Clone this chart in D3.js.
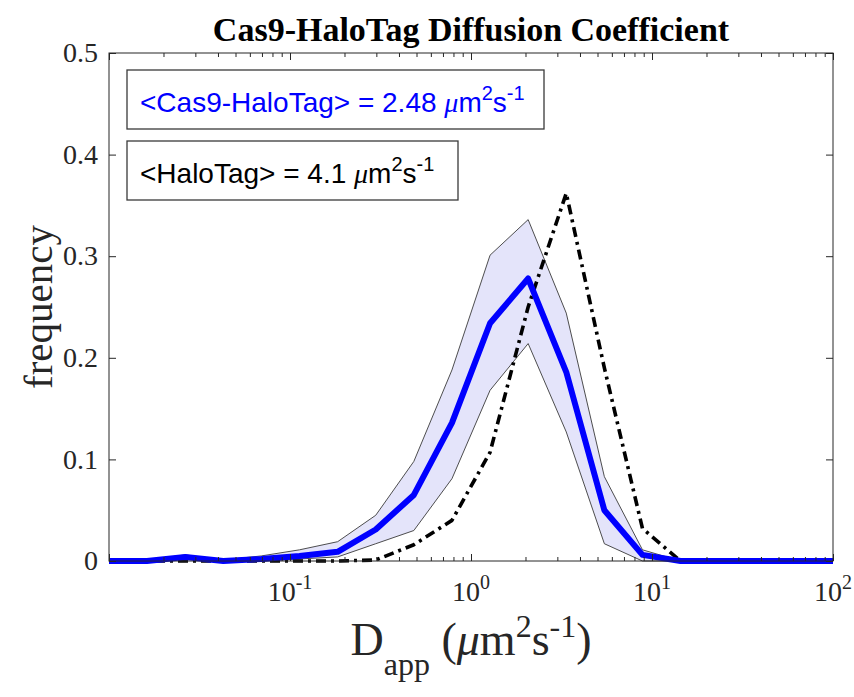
<!DOCTYPE html>
<html>
<head>
<meta charset="utf-8">
<script src="https://cdn.jsdelivr.net/npm/d3@7"></script>
<style>
  html, body { margin: 0; padding: 0; background: #ffffff; }
  svg { display: block; }
</style>
</head>
<body>
<svg id="chart" width="854" height="697"></svg>
<script>
// Histogram bin centres of the apparent diffusion coefficient (µm²/s), log-spaced
const dBins = [0.0100, 0.0162, 0.0264, 0.0428, 0.0695, 0.1129, 0.1833, 0.2976, 0.4833, 0.7848,
               1.2743, 2.0691, 3.3598, 5.4556, 8.8587, 14.3845, 23.3572, 37.9269, 61.5848, 100];

// Cas9-HaloTag: mean frequency and the band around it
const cas9Mean  = [0, 0, 0.004, 0, 0.002, 0.005, 0.009, 0.031, 0.065, 0.136,
                   0.234, 0.278, 0.186, 0.050, 0.006, 0, 0, 0, 0, 0];
const cas9Upper = [0, 0.001, 0.006, 0.001, 0.005, 0.011, 0.019, 0.045, 0.098, 0.188,
                   0.301, 0.336, 0.244, 0.083, 0.011, 0, 0, 0, 0, 0];
const cas9Lower = [0, 0, 0.002, 0, 0, 0.002, 0.004, 0.017, 0.030, 0.081,
                   0.168, 0.214, 0.127, 0.017, 0, 0, 0, 0, 0, 0];

// Free HaloTag reference distribution
const haloTag   = [0, 0, 0, 0, 0, 0, 0, 0.001, 0.016, 0.040,
                   0.107, 0.250, 0.362, 0.190, 0.032, 0, 0, 0, 0, 0];

const xMajorTicks = [0.01, 0.1, 1, 10, 100];
const xTickLabels = [["10", "-1"], ["10", "0"], ["10", "1"], ["10", "2"]];
const xLabelTicks = [0.1, 1, 10, 100];
const yTicks = [0, 0.1, 0.2, 0.3, 0.4, 0.5];
const yTickLabels = ["0", "0.1", "0.2", "0.3", "0.4", "0.5"];

const titleText = "Cas9-HaloTag Diffusion Coefficient";
const legendCas9 = { label: "<Cas9-HaloTag> = 2.48 ", color: "#0000ff" };
const legendHalo = { label: "<HaloTag> = 4.1 ", color: "#000000" };

// ---- layout ----
const plot = { left: 109, right: 833, top: 53, bottom: 561 };
const axisColor = "#262626";
const serif = "'Liberation Serif', 'Times New Roman', serif";
const sans = "'Liberation Sans', Arial, sans-serif";

const svg = d3.select("#chart");

const x = d3.scaleLog().domain([0.01, 100]).range([plot.left, plot.right]);
const y = d3.scaleLinear().domain([0, 0.5]).range([plot.bottom, plot.top]);

// minor ticks 2..9 in every decade
const xMinorTicks = [];
for (let i = 0; i < xMajorTicks.length - 1; i++) {
  for (let k = 2; k <= 9; k++) xMinorTicks.push(xMajorTicks[i] * k);
}

svg.append("defs").append("clipPath").attr("id", "plotclip")
  .append("rect")
  .attr("x", plot.left).attr("y", plot.top - 10)
  .attr("width", plot.right - plot.left).attr("height", plot.bottom - plot.top + 20);

const gData = svg.append("g").attr("clip-path", "url(#plotclip)");

// shaded band
const area = d3.area()
  .x((d, i) => x(dBins[i]))
  .y0((d, i) => y(cas9Lower[i]))
  .y1((d, i) => y(cas9Upper[i]));
gData.append("path")
  .datum(cas9Mean)
  .attr("d", area)
  .attr("fill", "#e4e4fa")
  .attr("stroke", "none");

const line = d3.line().x((d, i) => x(dBins[i])).y(d => y(d));

gData.append("path").datum(cas9Upper).attr("d", line)
  .attr("fill", "none").attr("stroke", "#3a3a3a").attr("stroke-width", 0.9);
gData.append("path").datum(cas9Lower).attr("d", line)
  .attr("fill", "none").attr("stroke", "#3a3a3a").attr("stroke-width", 0.9);

// HaloTag dash-dot curve
gData.append("path").datum(haloTag).attr("d", line)
  .attr("fill", "none").attr("stroke", "#000000")
  .attr("stroke-width", 3.6)
  .attr("stroke-dasharray", "10,5,3,5")
  .attr("stroke-linejoin", "round");

// Cas9-HaloTag mean curve
gData.append("path").datum(cas9Mean).attr("d", line)
  .attr("fill", "none").attr("stroke", "#0000ff")
  .attr("stroke-width", 6)
  .attr("stroke-linejoin", "round");

// ---- axes box ----
function styleAxis(g) {
  g.select(".domain").remove();
  g.selectAll(".tick line").attr("stroke", axisColor).attr("stroke-width", 1);
  g.selectAll(".tick text").remove();
}

svg.append("g").attr("transform", `translate(0,${plot.bottom})`)
  .call(d3.axisBottom(x).tickValues(xMajorTicks).tickSize(-7).tickFormat(""))
  .call(styleAxis);
svg.append("g").attr("transform", `translate(0,${plot.bottom})`)
  .call(d3.axisBottom(x).tickValues(xMinorTicks).tickSize(-4).tickFormat(""))
  .call(styleAxis);
svg.append("g").attr("transform", `translate(0,${plot.top})`)
  .call(d3.axisTop(x).tickValues(xMajorTicks).tickSize(-7).tickFormat(""))
  .call(styleAxis);
svg.append("g").attr("transform", `translate(0,${plot.top})`)
  .call(d3.axisTop(x).tickValues(xMinorTicks).tickSize(-4).tickFormat(""))
  .call(styleAxis);
svg.append("g").attr("transform", `translate(${plot.left},0)`)
  .call(d3.axisLeft(y).tickValues(yTicks).tickSize(-7).tickFormat(""))
  .call(styleAxis);
svg.append("g").attr("transform", `translate(${plot.right},0)`)
  .call(d3.axisRight(y).tickValues(yTicks).tickSize(-7).tickFormat(""))
  .call(styleAxis);

svg.append("rect")
  .attr("x", plot.left).attr("y", plot.top)
  .attr("width", plot.right - plot.left).attr("height", plot.bottom - plot.top)
  .attr("fill", "none").attr("stroke", axisColor).attr("stroke-width", 1);

// ---- tick labels ----
svg.append("g").selectAll("text").data(yTicks).join("text")
  .attr("x", plot.left - 11)
  .attr("y", d => y(d))
  .attr("dy", "0.33em")
  .attr("text-anchor", "end")
  .attr("font-family", serif).attr("font-size", 28)
  .attr("fill", axisColor)
  .text((d, i) => yTickLabels[i]);

const xl = svg.append("g").selectAll("text").data(xLabelTicks).join("text")
  .attr("x", d => x(d))
  .attr("y", 601)
  .attr("text-anchor", "middle")
  .attr("font-family", serif).attr("font-size", 28)
  .attr("fill", axisColor);
xl.append("tspan").text((d, i) => xTickLabels[i][0]);
xl.append("tspan").attr("dy", -12).attr("font-size", 20).text((d, i) => xTickLabels[i][1]);

// ---- title ----
svg.append("text")
  .attr("x", (plot.left + plot.right) / 2).attr("y", 41)
  .attr("text-anchor", "middle")
  .attr("font-family", serif).attr("font-size", 34).attr("font-weight", "bold")
  .attr("fill", "#000")
  .text(titleText);

// ---- axis labels ----
svg.append("text")
  .attr("transform", `translate(52,${(plot.top + plot.bottom) / 2}) rotate(-90)`)
  .attr("text-anchor", "middle")
  .attr("font-family", serif).attr("font-size", 41)
  .attr("fill", axisColor)
  .text("frequency");

const xt = svg.append("text")
  .attr("x", 471).attr("y", 655)
  .attr("text-anchor", "middle")
  .attr("font-family", serif).attr("font-size", 46)
  .attr("fill", axisColor);
xt.append("tspan").text("D");
xt.append("tspan").attr("dy", 20).attr("font-size", 32).text("app");
xt.append("tspan").attr("dy", -20).text(" (");
xt.append("tspan").attr("font-style", "italic").text("\u03bc");
xt.append("tspan").text("m");
xt.append("tspan").attr("dy", -18).attr("font-size", 32).text("2");
xt.append("tspan").attr("dy", 18).text("s");
xt.append("tspan").attr("dy", -18).attr("font-size", 32).text("-1");
xt.append("tspan").attr("dy", 18).text(")");

// ---- annotation boxes ----
function unitBox(top, right, entry) {
  svg.append("rect")
    .attr("x", 127).attr("y", top)
    .attr("width", right - 127).attr("height", 59)
    .attr("fill", "#ffffff").attr("stroke", "#3a3a3a").attr("stroke-width", 1.3);
  const t = svg.append("text")
    .attr("x", 140).attr("y", top + 42)
    .attr("font-family", sans).attr("font-size", 28)
    .attr("fill", entry.color);
  t.append("tspan").text(entry.label);
  t.append("tspan").attr("font-family", serif).attr("font-style", "italic").text("\u03bc");
  t.append("tspan").text("m");
  t.append("tspan").attr("dy", -12).attr("font-size", 20).text("2");
  t.append("tspan").attr("dy", 12).text("s");
  t.append("tspan").attr("dy", -12).attr("font-size", 20).text("-1");
}
unitBox(70, 544, legendCas9);
unitBox(141, 458, legendHalo);
</script>
</body>
</html>
